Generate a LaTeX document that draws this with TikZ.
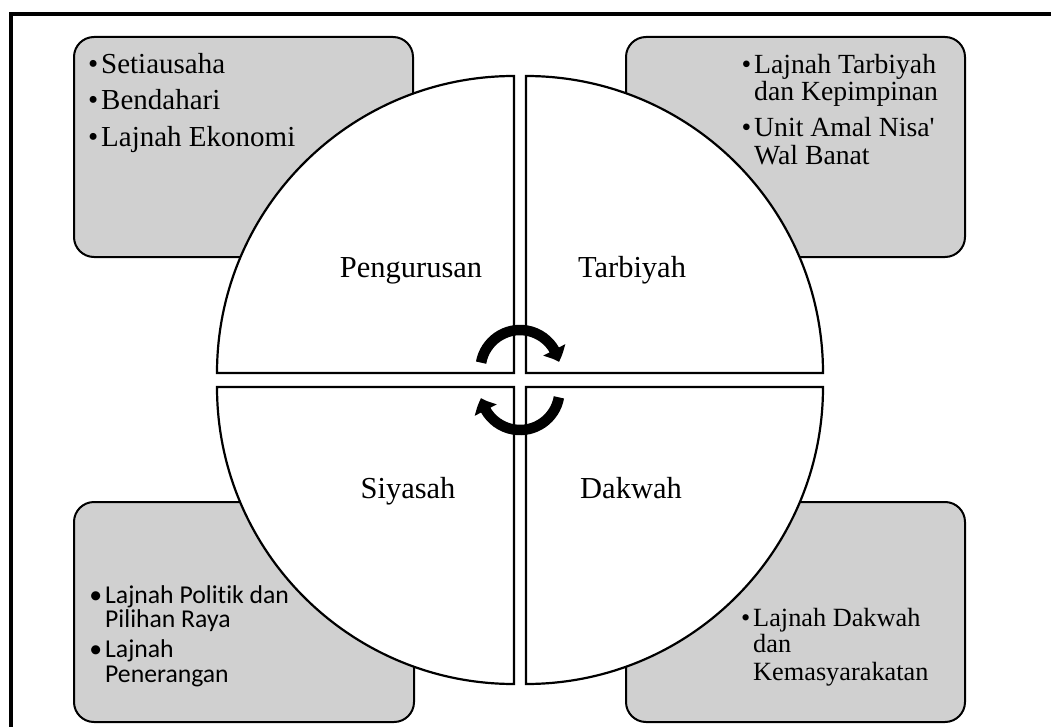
\documentclass[tikz,border=0pt]{standalone}
\usepackage{fontspec}
\setmainfont{Liberation Serif}
\newfontfamily\calibri[Ligatures=NoCommon]{Carlito}
\usetikzlibrary{arrows.meta,bending}
\definecolor{boxgray}{RGB}{208,208,208}
\newcommand\bul{\makebox[0pt][r]{\textbullet\hspace{3pt}}}
\begin{document}
\begin{tikzpicture}[x=1pt,y=1pt,
  lbox/.style={fill=boxgray, draw=black, line width=2pt, rounded corners=20pt},
  quarter/.style={fill=white, draw=black, line width=2.2pt},
  tltext/.style={anchor=base west, inner sep=0pt, font=\fontsize{29}{34}\selectfont},
  trtext/.style={anchor=base west, inner sep=0pt, font=\fontsize{27.7}{32}\selectfont},
  brtext/.style={anchor=base west, inner sep=0pt, font=\fontsize{26.3}{31}\selectfont},
  bltext/.style={anchor=base west, inner sep=0pt, font=\calibri\fontsize{25.7}{30}\selectfont},
  qlabel/.style={anchor=base, inner sep=0pt, font=\fontsize{30.5}{36}\selectfont},
  cyc/.style={line width=10.5pt, -{Triangle[length=13pt,width=24pt,bend]}}]
\useasboundingbox (0,0) rectangle (1051,-727);
% frame
\draw[line width=4pt] (10.5,-727) -- (10.5,-14.5) -- (1051,-14.5);
% boxes
\draw[lbox] (74,-37) rectangle (413,-257);
\draw[lbox] (626,-37) rectangle (965,-257);
\draw[lbox] (74,-502) rectangle (414,-722);
\draw[lbox] (626,-502) rectangle (965,-722);
% box texts
\node[tltext] (tl1) at (101,-74) {\bul Setiausaha};
\node[tltext] (tl2) at (101,-110) {\bul Bendahari};
\node[tltext] (tl3) at (101,-147) {\bul Lajnah Ekonomi};
\node[trtext] (tr1) at (754,-74) {\bul Lajnah Tarbiyah};
\node[trtext] (tr2) at (754,-101) {dan Kepimpinan};
\node[trtext] (tr3) at (754,-137) {\bul Unit Amal Nisa\textquotesingle};
\node[trtext] (tr4) at (754,-165) {Wal Banat};
\node[bltext] (bl1) at (105,-603) {\bul Lajnah Politik dan};
\node[bltext] (bl2) at (105,-627) {Pilihan Raya};
\node[bltext] (bl3) at (105,-657) {\bul Lajnah};
\node[bltext] (bl4) at (105,-682) {Penerangan};
\node[brtext] (br1) at (753,-626) {\bul Lajnah Dakwah};
\node[brtext] (br2) at (753,-652) {dan};
\node[brtext] (br3) at (753,-680) {Kemasyarakatan};
% quarters
\draw[quarter] (514,-373) -- (217,-373) arc[start angle=180,end angle=90,radius=297] -- cycle;
\draw[quarter] (526,-373) -- (526,-76) arc[start angle=90,end angle=0,radius=297] -- cycle;
\draw[quarter] (514,-387) -- (514,-684) arc[start angle=270,end angle=180,radius=297] -- cycle;
\draw[quarter] (526,-387) -- (823,-387) arc[start angle=0,end angle=-90,radius=297] -- cycle;
% labels
\node[qlabel] (peng) at (411,-277) {Pengurusan};
\node[qlabel] (tarb) at (632,-277) {Tarbiyah};
\node[qlabel] (siya) at (408,-498) {Siyasah};
\node[qlabel] (dakw) at (631,-498) {Dakwah};
% cycle arrows
\draw[cyc] (520,-369.5) ++(170:39.5) arc[start angle=170,end angle=11,radius=39.5];
\draw[cyc] (520,-390.5) ++(350:39.5) arc[start angle=350,end angle=191,radius=39.5];
\end{tikzpicture}
\end{document}
